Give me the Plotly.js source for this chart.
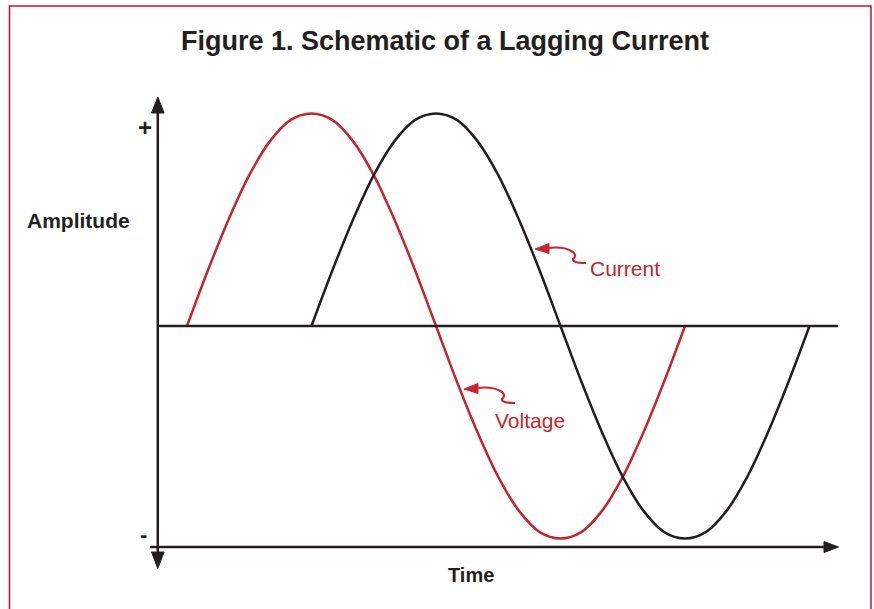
<!DOCTYPE html>
<html>
<head>
<meta charset="utf-8">
<script src="https://cdn.plot.ly/plotly-3.0.1.min.js"></script>
<style>
  html, body { margin: 0; padding: 0; background: #ffffff; }
  #chart { width: 874px; height: 609px; }
</style>
</head>
<body>
<div id="chart"></div>
<script>
// ---- Data (read from the schematic) ----
const voltagePhase = [0, 15, 30, 45, 60, 75, 90, 105, 120, 135, 150, 165, 180, 195, 210, 225, 240, 255, 270, 285, 300, 315, 330, 345, 360];
const voltageAmp   = [0, 0.26, 0.5, 0.71, 0.87, 0.97, 1, 0.97, 0.87, 0.71, 0.5, 0.26, 0, -0.26, -0.5, -0.71, -0.87, -0.97, -1, -0.97, -0.87, -0.71, -0.5, -0.26, 0];
const currentPhase = [90, 105, 120, 135, 150, 165, 180, 195, 210, 225, 240, 255, 270, 285, 300, 315, 330, 345, 360, 375, 390, 405, 420, 435, 450];
const currentAmp   = [0, 0.26, 0.5, 0.71, 0.87, 0.97, 1, 0.97, 0.87, 0.71, 0.5, 0.26, 0, -0.26, -0.5, -0.71, -0.87, -0.97, -1, -0.97, -0.87, -0.71, -0.5, -0.26, 0];

const titleText = "Figure 1. Schematic of a Lagging Current";
const yLabel = "Amplitude";
const xLabel = "Time";
const seriesLabels = ["Current", "Voltage"];

// ---- Styling / layout helpers ----
const W = 874, H = 609;
const RED = "#c1272d", BLACK = "#231f20", BORDER = "#c8102e";
const FONT = "Liberation Sans, Arial, Helvetica, sans-serif";

// pixel <-> data mapping (plot area spans whole page)
const PX_ZERO = 187, PX_PERIOD = 498, PY_ZERO = 326, PY_AMP = 212.5;
const X = px => (px - PX_ZERO) * 360 / PX_PERIOD;
const Y = py => (PY_ZERO - py) / PY_AMP;
const P = (px, py) => X(px) + "," + Y(py);

const traces = [
  { x: voltagePhase, y: voltageAmp, mode: "lines", name: "Voltage",
    line: { color: RED, width: 2.5, shape: "spline", smoothing: 1 }, hoverinfo: "skip" },
  { x: currentPhase, y: currentAmp, mode: "lines", name: "Current",
    line: { color: BLACK, width: 2.5, shape: "spline", smoothing: 1 }, hoverinfo: "skip" }
];

const tri = (a, b, c, color) => ({
  type: "path", path: "M" + P(a[0], a[1]) + " L" + P(b[0], b[1]) + " L" + P(c[0], c[1]) + " Z",
  fillcolor: color, line: { color: color, width: 1 }, layer: "above"
});

function curlyArrow(tx, ty, color) {
  // tip at (tx,ty); pixel offsets describe the hooked tail
  const tail = {
    type: "path",
    path: "M" + P(tx + 12, ty - 1) +
          " Q" + P(tx + 30, ty - 3) + " " + P(tx + 38, ty + 3) +
          " Q" + P(tx + 42, ty + 7) + " " + P(tx + 38, ty + 10) +
          " Q" + P(tx + 37, ty + 14) + " " + P(tx + 51, ty + 14),
    line: { color: color, width: 2.2 }, layer: "above"
  };
  const head = tri([tx, ty], [tx + 14, ty - 5.5], [tx + 14, ty + 4.5], color);
  return [tail, head];
}

const shapes = [
  // frame
  { type: "rect", xref: "paper", yref: "paper", x0: 9.5 / W, x1: 871 / W, y0: -0.05, y1: 1 - 6 / H,
    line: { color: BORDER, width: 1.5 }, layer: "below" },
  // zero line
  { type: "line", x0: X(157), x1: X(838), y0: 0, y1: 0, line: { color: BLACK, width: 2.5 } },
  // time axis
  { type: "line", x0: X(150), x1: X(826), y0: Y(547), y1: Y(547), line: { color: BLACK, width: 2.5 } },
  tri([838.5, 547], [824, 541.5], [824, 552.5], BLACK),
  // amplitude axis
  { type: "line", x0: X(157.8), x1: X(157.8), y0: Y(110), y1: Y(555), line: { color: BLACK, width: 2.5 } },
  tri([157.8, 97], [151.5, 113], [164.1, 113], BLACK),
  tri([157.8, 568.5], [151.5, 552], [164.1, 552], BLACK),
  ...curlyArrow(535, 249, RED),
  ...curlyArrow(464, 389, RED)
];

const ann = (text, px, py, size, color, xanchor) => ({
  text: text, x: X(px), y: Y(py), xref: "x", yref: "y", showarrow: false,
  xanchor: xanchor || "center", yanchor: "middle",
  font: { family: FONT, size: size, color: color }
});

const annotations = [
  ann("<b>" + yLabel + "</b>", 78.5, 220, 21, BLACK),
  ann("<b>" + xLabel + "</b>", 470.5, 575, 20, BLACK),
  ann("<b>+</b>", 145, 127, 24, BLACK),
  ann("<b>-</b>", 143.5, 534, 22, BLACK),
  ann(seriesLabels[0], 588, 268, 21, RED, "left"),
  ann(seriesLabels[1], 493, 420, 21, RED, "left")
];

const layout = {
  width: W, height: H,
  margin: { l: 0, r: 0, t: 0, b: 0, pad: 0 },
  paper_bgcolor: "#ffffff", plot_bgcolor: "#ffffff",
  showlegend: false,
  title: { text: "<b>" + titleText + "</b>", x: 445 / W, xanchor: "center",
           y: 1 - 41 / H, yanchor: "middle", xref: "paper", yref: "paper",
           font: { family: FONT, size: 27, color: BLACK } },
  xaxis: { range: [X(0), X(W)], visible: false, fixedrange: true },
  yaxis: { range: [Y(H), Y(0)], visible: false, fixedrange: true },
  shapes: shapes,
  annotations: annotations
};

Plotly.newPlot("chart", traces, layout, { staticPlot: true, displayModeBar: false });
</script>
</body>
</html>
